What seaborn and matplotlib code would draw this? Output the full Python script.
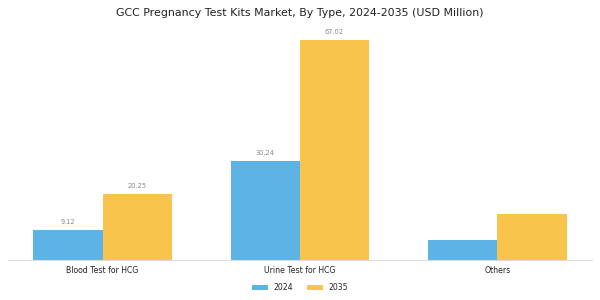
import matplotlib
matplotlib.use("Agg")
import matplotlib.pyplot as plt
import seaborn as sns
import pandas as pd

categories = ["Blood Test for HCG", "Urine Test for HCG", "Others"]
years = ["2024", "2035"]
values_2024 = [9.12, 30.24, 6.1]
values_2035 = [20.25, 67.02, 14.0]
show_labels = [True, True, False]

df = pd.DataFrame({
    "Type": categories * 2,
    "Year": [years[0]] * 3 + [years[1]] * 3,
    "Value": values_2024 + values_2035,
})

sns.set_theme(style="white")
plt.rcParams["font.family"] = ["DejaVu Sans"]

fig = plt.figure(figsize=(6, 3), dpi=100)
ax = fig.add_axes([0.013, 0.133, 0.974, 0.807])
sns.barplot(data=df, x="Type", y="Value", hue="Year", order=categories,
            hue_order=years, palette=["#5DB3E6", "#F9C44B"], width=0.7,
            saturation=1, ax=ax, errorbar=None, linewidth=0)

for cont in ax.containers:
    labels = [f"{p.get_height():.2f}" if s else "" for p, s in zip(cont, show_labels)]
    ax.bar_label(cont, labels=labels, padding=3.5, fontsize=4.8, color="#888888")

ax.set_xlim(-0.48, 2.48)
ax.set_ylim(0, 73.7)
ax.set_xlabel("")
ax.set_ylabel("")
ax.set_yticks([])
ax.tick_params(axis="x", labelsize=5.6, length=2.5, color="#bbbbbb", pad=1.5,
               labelcolor="#222222")
for s in ["top", "right", "left"]:
    ax.spines[s].set_visible(False)
ax.spines["bottom"].set_color("#dddddd")
ax.spines["bottom"].set_linewidth(0.8)

fig.suptitle("GCC Pregnancy Test Kits Market, By Type, 2024-2035 (USD Million)",
             fontsize=7.9, color="#222222", y=0.958, va="center")

leg = ax.legend(loc="center", bbox_to_anchor=(0.5, -0.113), ncol=2,
                frameon=False, fontsize=5.6, handlelength=2.05, handleheight=0.65,
                columnspacing=1.9, handletextpad=0.7)

fig.savefig("out.png", dpi=100, facecolor="white")
